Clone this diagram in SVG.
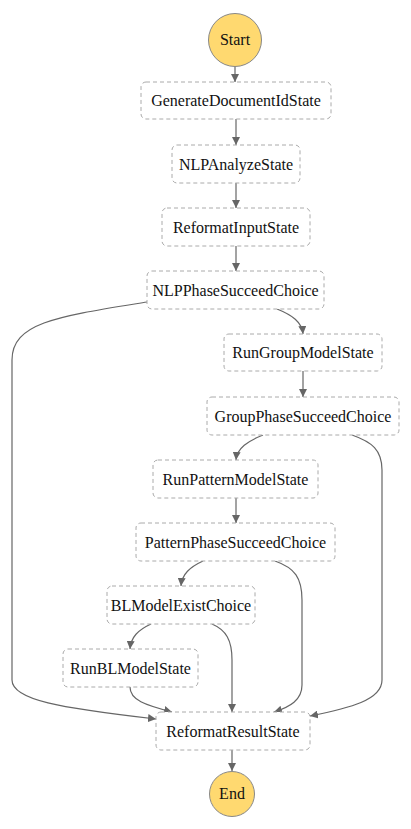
<svg xmlns="http://www.w3.org/2000/svg" width="411" height="829" viewBox="0 0 411 829">
<style>
.n rect{fill:#fff;stroke:#aaa;stroke-width:1;stroke-dasharray:4,3}
.c circle{fill:#ffd970;stroke:#888;stroke-width:1}
text{font-family:"Liberation Serif","Times New Roman",serif;font-size:16px;fill:#111;text-anchor:middle}
#edges path{fill:none;stroke:#666;stroke-width:1.2;marker-end:url(#ah)}
</style>
<defs>
<marker id="ah" viewBox="0 0 10 10" refX="10" refY="5" markerWidth="8" markerHeight="8" markerUnits="userSpaceOnUse" orient="auto">
<path d="M0,0 L10,5 L0,10 z" fill="#666"/>
</marker>
</defs>
<rect width="411" height="829" fill="#fff"/>
<g id="edges">
<path d="M235,66 L235,82"/>
<path d="M236,119 L236,145"/>
<path d="M236,183 L236,208"/>
<path d="M236,246 L236,271"/>
<path d="M277,309 C292,315 302,322 303,334"/>
<path d="M147,302 C60,316 12,322 12,360 L12,680 C12,700 60,708 156,719"/>
<path d="M303,371 L303,397"/>
<path d="M263,435 C248,441 237,448 236,460"/>
<path d="M352,435 C372,442 382,450 382,470 L382,680 C382,700 350,708 310,716"/>
<path d="M236,498 L236,523"/>
<path d="M203,561 C190,567 182,574 181,586"/>
<path d="M275,561 C295,568 302,578 302,600 L302,685 C302,700 290,707 274,712"/>
<path d="M151,624 C138,630 131,637 130,649"/>
<path d="M212,624 C226,630 232,640 232,660 L232,712"/>
<path d="M130,687 C130,700 145,705 172,712"/>
<path d="M232,750 L232,771"/>
</g>
<g id="start" class="c"><circle cx="235" cy="40" r="26.5"/><text x="235" y="45">Start</text></g>
<g id="generateDocumentIdState" class="n"><rect x="141" y="82" width="190" height="37" rx="5"/><text x="236" y="106">GenerateDocumentIdState</text></g>
<g id="nlpAnalyzeState" class="n"><rect x="172" y="145" width="128" height="38" rx="5"/><text x="236" y="169.5">NLPAnalyzeState</text></g>
<g id="reformatInputState" class="n"><rect x="162" y="208" width="148" height="38" rx="5"/><text x="236" y="232.5">ReformatInputState</text></g>
<g id="nlpPhaseSucceedChoice" class="n"><rect x="147" y="271" width="177" height="38" rx="5"/><text x="235.5" y="295.5">NLPPhaseSucceedChoice</text></g>
<g id="runGroupModelState" class="n"><rect x="224" y="334" width="158" height="37" rx="5"/><text x="303" y="358">RunGroupModelState</text></g>
<g id="groupPhaseSucceedChoice" class="n"><rect x="207" y="397" width="192" height="38" rx="5"/><text x="303" y="421.5">GroupPhaseSucceedChoice</text></g>
<g id="runPatternModelState" class="n"><rect x="153" y="460" width="165" height="38" rx="5"/><text x="235.5" y="484.5">RunPatternModelState</text></g>
<g id="patternPhaseSucceedChoice" class="n"><rect x="136" y="523" width="199" height="38" rx="5"/><text x="235.5" y="547.5">PatternPhaseSucceedChoice</text></g>
<g id="blModelExistChoice" class="n"><rect x="107" y="586" width="148" height="38" rx="5"/><text x="181" y="610.5">BLModelExistChoice</text></g>
<g id="runBLModelState" class="n"><rect x="63" y="649" width="135" height="38" rx="5"/><text x="130.5" y="673.5">RunBLModelState</text></g>
<g id="reformatResultState" class="n"><rect x="156" y="712" width="154" height="38" rx="5"/><text x="233" y="736.5">ReformatResultState</text></g>
<g id="end" class="c"><circle cx="232" cy="794" r="22.5"/><text x="232" y="799">End</text></g>
</svg>
